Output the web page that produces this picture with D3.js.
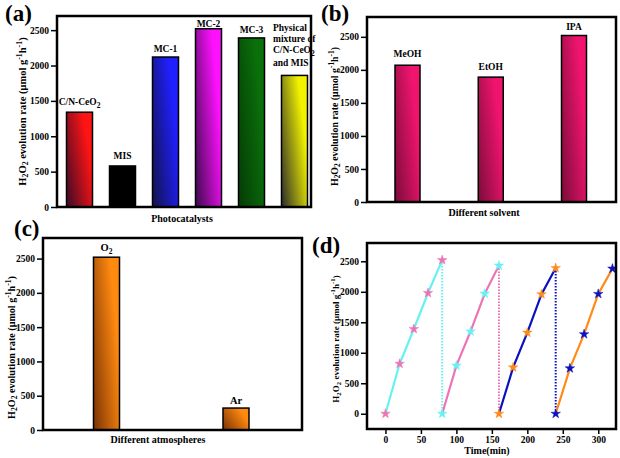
<!DOCTYPE html>
<html><head><meta charset="utf-8">
<script src="https://cdn.jsdelivr.net/npm/d3@7"></script>
<style>body{margin:0;background:#fff}svg{display:block}text{font-family:"Liberation Serif","Times New Roman",serif;font-weight:bold;fill:#000}</style>
</head><body><svg id="c" width="620" height="458"></svg>
<script>
// ---- data ----
const catsA = ["C/N-CeO2","MIS","MC-1","MC-2","MC-3","Physical mixture of C/N-CeO2 and MIS"];
const valsA = [1340,580,2120,2520,2390,1860];
const catsB = ["MeOH","EtOH","IPA"];
const valsB = [2070,1890,2520];
const catsC = ["O2","Ar"];
const valsC = [2520,320];
const cycles = ["cycle 1","cycle 2","cycle 3","cycle 4"];
const timeD = [[0,20,40,60,80],[80,100,120,140,160],[160,180,200,220,240],[240,260,280,300,320]];
const rateD = [[0,820,1390,1980,2520],[0,790,1350,1970,2430],[0,760,1330,1960,2390],[0,745,1305,1965,2380]];
const yTicks = [0,500,1000,1500,2000,2500];
const xTicksD = [0,50,100,150,200,250,300];
const mixLines = ["Physical", "mixture of", "C/N-CeO2", "and MIS"];

// ---- styles / layout ----
const colA = [["#ff1414","#3a0a28"],["#000000","#000000"],["#2020ff","#12124a"],["#ff10ff","#3a0a4a"],["#0a700a","#053a05"],["#f2f200","#2a2a2a"]];
const colB = ["#f0146e","#7a0c3a"];
const colC = ["#ff8a10","#7a3204"];
const lineD = ["#66f2f2","#ec74b4","#0a12c0","#ff8a1a"];
const starD = ["#ec74b4","#66f2f2","#ff8a1a","#0a12c0"];
const gapA = [7, 7, 5, 2, 5];
const gapB = [8, 7, 6];
const gapC = [6, 4];
const FS = 9.5;

const svg = d3.select("#c");
const defs = svg.append("defs");
function grad(id, c) {
  const g = defs.append("linearGradient").attr("id", id)
    .attr("x1", 0).attr("y1", 1).attr("x2", 0.9).attr("y2", 0.45);
  g.append("stop").attr("offset", "0%").attr("stop-color", c[1]);
  g.append("stop").attr("offset", "100%").attr("stop-color", c[0]);
}
colA.forEach((c, i) => grad("gA" + i, c));
grad("gB", colB);
grad("gC", colC);

function styleAxis(ga) {
  ga.select(".domain").remove();
  ga.attr("font-family", "Liberation Serif").attr("font-size", FS).attr("font-weight", "bold");
  ga.selectAll("line").attr("stroke", "#000").attr("stroke-width", 1.5);
}
function panel(box, yDomain) {
  const y = d3.scaleLinear().domain(yDomain).range([box.y1, box.y0]);
  const ga = svg.append("g").attr("transform", `translate(${box.x0},0)`)
    .call(d3.axisLeft(y).tickValues(yTicks).tickFormat(d3.format("d")).tickSize(6).tickPadding(2));
  styleAxis(ga);
  return y;
}
function frame(box) {
  svg.append("rect").attr("x", box.x0).attr("y", box.y0)
    .attr("width", box.x1 - box.x0).attr("height", box.y1 - box.y0)
    .attr("fill", "none").attr("stroke", "#000").attr("stroke-width", 2.5);
}
function yLabel(x, y, len) {
  const t = svg.append("text").attr("transform", `translate(${x},${y}) rotate(-90)`)
    .attr("text-anchor", "middle").attr("font-size", 10);
  t.append("tspan").text("H");
  t.append("tspan").attr("dy", "0.3em").attr("font-size", "0.75em").text("2");
  t.append("tspan").attr("dy", "-0.225em").text("O");
  t.append("tspan").attr("dy", "0.3em").attr("font-size", "0.75em").text("2");
  t.append("tspan").attr("dy", "-0.225em").text(" evolution rate (\u03bcmol g");
  t.append("tspan").attr("dy", "-0.45em").attr("font-size", "0.75em").text("-1");
  t.append("tspan").attr("dy", "0.3375em").text("h");
  t.append("tspan").attr("dy", "-0.45em").attr("font-size", "0.75em").text("-1");
  t.append("tspan").attr("dy", "0.3375em").text(")");
  const w = t.node().getBBox().width;
  t.attr("font-size", 10 * len / w * 0.91);
}
function subText(sel, base, sub) {
  sel.append("tspan").text(base);
  sel.append("tspan").attr("dy", 3).attr("font-size", 7.5).text(sub);
}
function title(x, y, s) {
  svg.append("text").attr("x", x).attr("y", y).attr("font-size", 23).text(s);
}
function xTitle(x, y, s) {
  svg.append("text").attr("x", x).attr("y", y).attr("text-anchor", "middle").attr("font-size", 10).text(s);
}

// ---- (a) ----
const boxA = {x0: 57, x1: 311, y0: 16, y1: 207};
const yA = panel(boxA, [0, 2700]);
const xA = d3.scalePoint().domain(catsA).range([79.5, 294.5]);
svg.append("g").selectAll("rect").data(catsA).join("rect")
  .attr("x", d => xA(d) - 13).attr("width", 26)
  .attr("y", (d, i) => yA(valsA[i])).attr("height", (d, i) => yA(0) - yA(valsA[i]))
  .attr("fill", (d, i) => `url(#gA${i})`).attr("stroke", "#000").attr("stroke-width", 1.5);
frame(boxA);
catsA.forEach((c, i) => {
  if (i === 5) return;
  const t = svg.append("text").attr("x", xA(c)).attr("y", yA(valsA[i]) - gapA[i])
    .attr("text-anchor", "middle").attr("font-size", FS);
  if (c === "C/N-CeO2") subText(t, "C/N-CeO", "2"); else t.text(c);
});
mixLines.forEach((s, k) => {
  const t = svg.append("text").attr("x", 273).attr("y", [31, 42, 53, 66][k]).attr("font-size", FS);
  if (s === "C/N-CeO2") subText(t, "C/N-CeO", "2"); else t.text(s);
});
xTitle(182, 222, "Photocatalysts");
yLabel(25.5, 111.5, 163);
title(5, 21, "(a)");

// ---- (b) ----
const boxB = {x0: 367, x1: 616, y0: 17, y1: 202};
const yB = panel(boxB, [0, 2800]);
const xB = d3.scalePoint().domain(catsB).range([407.5, 574]);
svg.append("g").selectAll("rect").data(catsB).join("rect")
  .attr("x", d => xB(d) - 12.5).attr("width", 25)
  .attr("y", (d, i) => yB(valsB[i])).attr("height", (d, i) => yB(0) - yB(valsB[i]))
  .attr("fill", "url(#gB)").attr("stroke", "#000").attr("stroke-width", 1.5);
frame(boxB);
catsB.forEach((c, i) => {
  svg.append("text").attr("x", xB(c)).attr("y", yB(valsB[i]) - gapB[i])
    .attr("text-anchor", "middle").attr("font-size", FS).text(c);
});
xTitle(484, 216, "Different solvent");
yLabel(337.5, 116.5, 153);
title(321, 20.5, "(b)");

// ---- (c) ----
const boxC = {x0: 43, x1: 302, y0: 238, y1: 430};
const yC = panel(boxC, [0, 2800]);
const xC = d3.scalePoint().domain(catsC).range([106.5, 236]);
svg.append("g").selectAll("rect").data(catsC).join("rect")
  .attr("x", d => xC(d) - 13).attr("width", 26)
  .attr("y", (d, i) => yC(valsC[i])).attr("height", (d, i) => yC(0) - yC(valsC[i]))
  .attr("fill", "url(#gC)").attr("stroke", "#000").attr("stroke-width", 1.5);
frame(boxC);
catsC.forEach((c, i) => {
  const t = svg.append("text").attr("x", xC(c)).attr("y", yC(valsC[i]) - gapC[i])
    .attr("text-anchor", "middle").attr("font-size", 10.5);
  if (c === "O2") subText(t, "O", "2"); else t.text(c);
});
xTitle(158, 443, "Different atmospheres");
yLabel(14.5, 347.5, 157);
title(14, 236, "(c)");

// ---- (d) ----
const boxD = {x0: 367, x1: 616, y0: 243, y1: 429};
const yD = panel(boxD, [-250, 2800]);
const xD = d3.scaleLinear().domain([-26, 325]).range([boxD.x0, boxD.x1]);
const gx = svg.append("g").attr("transform", `translate(0,${boxD.y1})`)
  .call(d3.axisBottom(xD).tickValues(xTicksD).tickSize(5).tickPadding(2));
styleAxis(gx);
const line = d3.line().x(d => xD(d[0])).y(d => yD(d[1]));
cycles.forEach((c, k) => {
  const pts = timeD[k].map((t, j) => [t, rateD[k][j]]);
  if (k < 3) {
    const last = pts[pts.length - 1];
    svg.append("path").attr("d", line([last, [last[0], 0]]))
      .attr("stroke", lineD[k]).attr("stroke-width", 2).attr("stroke-dasharray", "1.5,1.5").attr("fill", "none");
  }
});
cycles.forEach((c, k) => {
  const pts = timeD[k].map((t, j) => [t, rateD[k][j]]);
  svg.append("path").attr("d", line(pts)).attr("stroke", lineD[k]).attr("stroke-width", 2.2).attr("fill", "none");
});
cycles.forEach((c, k) => {
  const pts = timeD[k].map((t, j) => [t, rateD[k][j]]);
  svg.append("g").selectAll("path").data(pts).join("path")
    .attr("transform", d => `translate(${xD(d[0])},${yD(d[1])})`)
    .attr("d", d3.symbol(d3.symbolStar, 28))
    .attr("fill", starD[k]).attr("stroke", starD[k]).attr("stroke-width", 0.5);
});
frame(boxD);
xTitle(487, 454, "Time(min)");
yLabel(338.5, 339, 140);
title(312, 253, "(d)");
</script></body></html>
